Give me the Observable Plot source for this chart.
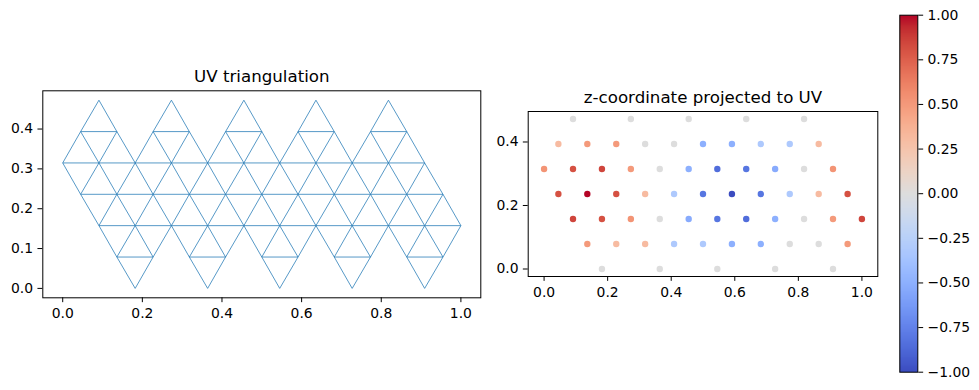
<!DOCTYPE html>
<html><head><meta charset="utf-8">
<script src="https://cdn.jsdelivr.net/npm/d3@7"></script>
<script src="https://cdn.jsdelivr.net/npm/@observablehq/plot@0.6"></script>
<style>
body{margin:0;background:#fff;}
#root{position:relative;width:979px;height:390px;overflow:hidden;background:#fff;}
#root svg{position:absolute;left:0;top:0;}
</style></head><body><div id="root"></div>
<script>
// ---- data ----
const rowV = [0, 0.0787, 0.1575, 0.2362, 0.3149, 0.3936, 0.4724];
const rowU = [
  [0.182, 0.364, 0.545, 0.727, 0.909],
  [0.136, 0.227, 0.318, 0.409, 0.5, 0.591, 0.682, 0.773, 0.864, 0.955],
  [0.091, 0.182, 0.273, 0.364, 0.455, 0.545, 0.636, 0.727, 0.818, 0.909, 1.0],
  [0.045, 0.136, 0.227, 0.318, 0.409, 0.5, 0.591, 0.682, 0.773, 0.864, 0.955],
  [0, 0.091, 0.182, 0.273, 0.364, 0.455, 0.545, 0.636, 0.727, 0.818, 0.909],
  [0.045, 0.136, 0.227, 0.318, 0.409, 0.5, 0.591, 0.682, 0.773, 0.864],
  [0.091, 0.273, 0.455, 0.636, 0.818]
];
const rowZ = [
  [0, 0, 0, 0, 0],
  [0.5, 0.31, 0.31, -0.31, -0.31, -0.5, -0.5, 0, 0, 0.5],
  [0.85, 0.81, 0.53, 0, -0.53, -0.81, -0.85, -0.5, 0, 0.5, 0.85],
  [0.81, 1, 0.81, 0.31, -0.31, -0.81, -1, -0.81, -0.31, 0.31, 0.81],
  [0.53, 0.81, 0.85, 0.5, 0, -0.5, -0.85, -0.81, -0.53, 0, 0.53],
  [0.31, 0.5, 0.5, 0, 0, -0.5, -0.5, -0.31, -0.31, 0.31],
  [0, 0, 0, 0, 0]
];
const xTicks = [0, 0.2, 0.4, 0.6, 0.8, 1.0];
const yTicksLeft = [0, 0.1, 0.2, 0.3, 0.4];
const yTicksRight = [0, 0.2, 0.4];
const cbTicks = [-1, -0.75, -0.5, -0.25, 0, 0.25, 0.5, 0.75, 1];
const titleLeft = "UV triangulation";
const titleRight = "z-coordinate projected to UV";

// ---- build point table and mesh edges (lattice neighbours) ----
const points = rowU.flatMap((us, r) => us.map((u, i) => ({u, v: rowV[r], z: rowZ[r][i], r})));
const side = 1 / 11, tol = 0.006;
const near = (a, b) => Math.abs(a - b) < tol;
const has = (r, u) => r >= 0 && r < rowU.length && rowU[r].some(x => near(x, u));
const edges = [];
for (let i = 0; i < points.length; i++) {
  for (let j = i + 1; j < points.length; j++) {
    const a = points[i], b = points[j];
    if (!near(Math.hypot(a.u - b.u, a.v - b.v), side)) continue;
    if (a.r === b.r) {
      const m = (a.u + b.u) / 2;
      if (!(has(a.r + 1, m) && has(a.r - 1, m))) continue;
    }
    edges.push({u1: a.u, v1: a.v, u2: b.u, v2: b.v});
  }
}

// ---- coolwarm colormap ----
const cwStops = ["#3b4cc0","#445acc","#4d68d7","#5775e1","#6282ea","#6c8ef1","#779af7","#82a5fb","#8db0fe","#98b9ff","#a3c2ff","#aec9fd","#b8d0f9","#c2d5f4","#ccd9ee","#d5dbe6","#dddddd","#e5d8d1","#ecd3c5","#f1ccb9","#f5c4ad","#f7bba0","#f7b194","#f7a687","#f49a7b","#f18d6f","#ec7f63","#e57058","#de604d","#d55042","#cb3e38","#c0282f","#b40426"];
const cwInterp = d3.piecewise(d3.interpolateRgb, cwStops);
const colorScale = {type: "linear", domain: [-1, 1], interpolate: (t) => cwInterp(t)};

const font = "'DejaVu Sans', sans-serif";
const baseStyle = {fontFamily: font, fontSize: "13.9px", color: "black", background: "transparent", overflow: "visible"};
const W = 979, H = 390;
const tk = 4.86;

// ---- left: UV triangulation ----
const left = Plot.plot({
  width: W, height: H,
  marginLeft: 42.3, marginRight: W - 480.3, marginTop: 90.3, marginBottom: H - 297.3,
  x: {domain: [-0.05, 1.05], label: null},
  y: {domain: [-0.0236, 0.496], label: null},
  style: baseStyle,
  marks: [
    Plot.link(edges, {x1: "u1", y1: "v1", x2: "u2", y2: "v2", stroke: "#1f77b4", strokeWidth: 0.75}),
    Plot.frame({stroke: "black", strokeWidth: 1}),
    Plot.axisX({ticks: xTicks, tickFormat: d3.format(".1f"), tickSize: tk, tickPadding: 5.4}),
    Plot.axisY({ticks: yTicksLeft, tickFormat: d3.format(".1f"), tickSize: tk, tickPadding: tk}),
    Plot.text([titleLeft], {frameAnchor: "top", dy: -8.33, lineAnchor: "bottom", fontSize: 16.67, fill: "black"})
  ]
});

// ---- right: z-coordinate scatter ----
const right = Plot.plot({
  width: W, height: H,
  marginLeft: 527.7, marginRight: W - 877.3, marginTop: 111, marginBottom: H - 276,
  x: {domain: [-0.05, 1.05], label: null},
  y: {domain: [-0.0236, 0.496], label: null},
  color: colorScale,
  style: baseStyle,
  marks: [
    Plot.dot(points, {x: "u", y: "v", fill: "z", r: 3.2}),
    Plot.frame({stroke: "black", strokeWidth: 1}),
    Plot.axisX({ticks: xTicks, tickFormat: d3.format(".1f"), tickSize: tk, tickPadding: 5.4}),
    Plot.axisY({ticks: yTicksRight, tickFormat: d3.format(".1f"), tickSize: tk, tickPadding: tk}),
    Plot.text([titleRight], {frameAnchor: "top", dy: -8.33, lineAnchor: "bottom", fontSize: 16.67, fill: "black"})
  ]
});

// ---- colorbar ----
const cbar = Plot.plot({
  width: W, height: H,
  marginLeft: 899.3, marginRight: W - 917.3, marginTop: 14.7, marginBottom: H - 371.7,
  x: {domain: [0, 1], axis: null},
  y: {domain: [-1, 1], label: null},
  color: colorScale,
  style: baseStyle,
  marks: [
    Plot.raster({x1: 0, x2: 1, y1: -1, y2: 1, width: 1, height: 400, fill: (x, y) => y}),
    Plot.frame({stroke: "black", strokeWidth: 1}),
    Plot.axisY({anchor: "right", ticks: cbTicks, tickFormat: d3.format(".2f"), tickSize: tk, tickPadding: tk})
  ]
});

const root = document.getElementById("root");
root.append(left, right, cbar);
</script>
</body></html>
